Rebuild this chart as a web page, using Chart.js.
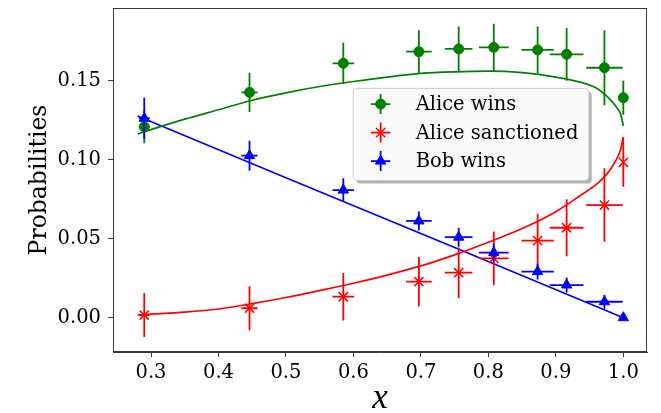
<!DOCTYPE html>
<html><head><meta charset="utf-8">
<script src="https://cdn.jsdelivr.net/npm/chart.js@4.4.1/dist/chart.umd.min.js"></script>
<style>html,body{margin:0;padding:0;background:#fff}</style>
</head><body>
<canvas id="c" width="661" height="413" style="display:block;width:661px;height:413px"></canvas>
<script>
// ---- data ----
const xData = [0.290, 0.446, 0.585, 0.697, 0.756, 0.808, 0.873, 0.916, 0.972, 1.000];
const xErr  = [0.008, 0.012, 0.016, 0.019, 0.0205, 0.022, 0.024, 0.025, 0.027, 0];

const aliceWins    = [0.121, 0.1428, 0.1612, 0.1686, 0.1703, 0.1713, 0.1697, 0.1669, 0.1584, 0.1394];
const aliceWinsErr = [0.0105, 0.0125, 0.013, 0.0135, 0.0142, 0.015, 0.0148, 0.0167, 0.0238, 0.0108];
const aliceSanc    = [0.0017, 0.006, 0.0133, 0.0228, 0.0285, 0.0376, 0.0488, 0.057, 0.0714, 0.0985];
const aliceSancErr = [0.014, 0.014, 0.015, 0.0157, 0.016, 0.017, 0.017, 0.018, 0.0233, 0.0155];
const bobWins      = [0.1264, 0.1027, 0.0809, 0.0613, 0.051, 0.0412, 0.0292, 0.0207, 0.0101, 0.0];
const bobWinsErr   = [0.013, 0.0095, 0.0074, 0.006, 0.006, 0.0056, 0.005, 0.0048, 0.0045, 0];

const fitX        = [0.28, 0.30, 0.35, 0.40, 0.45, 0.50, 0.55, 0.60, 0.65, 0.70, 0.75, 0.80, 0.85, 0.90, 0.94, 0.96, 0.97, 0.98, 0.99, 0.996, 1.0];
const fitAlice    = [0.1164, 0.1192, 0.1258, 0.1318, 0.1378, 0.1425, 0.1465, 0.1497, 0.1525, 0.1548, 0.1558, 0.1562, 0.1553, 0.1525, 0.1488, 0.1455, 0.1425, 0.1385, 0.1333, 0.1290, 0.1215];
const fitSanc     = [0.0017, 0.0022, 0.0035, 0.0055, 0.0089, 0.0128, 0.0172, 0.0218, 0.0270, 0.0328, 0.0398, 0.0478, 0.0565, 0.0672, 0.0785, 0.0845, 0.0885, 0.0935, 0.1005, 0.1065, 0.1145];
const bobFitX     = [0.28, 0.50, 0.75, 1.0];
const bobFit      = [0.1278, 0.0887, 0.0445, 0.0];

const xTicks = [0.3, 0.4, 0.5, 0.6, 0.7, 0.8, 0.9, 1.0];
const xTickLabels = ['0.3', '0.4', '0.5', '0.6', '0.7', '0.8', '0.9', '1.0'];
const yTicks = [0.00, 0.05, 0.10, 0.15];
const yTickLabels = ['0.00', '0.05', '0.10', '0.15'];

const seriesNames = ['Alice wins', 'Alice sanctioned', 'Bob wins'];
const xTitle = 'x';
const yTitle = 'Probabilities';

// ---- styling ----
const GREEN = '#008000', RED = '#ff0000', BLUE = '#0000ff';
const SERIF = "DejaVu Serif, serif";
const AXIS = '#3a3a3a';

const pts = (xs, ys) => xs.map((x, i) => ({ x: x, y: ys[i] }));

const errorBars = {
  id: 'errorBars',
  beforeDatasetDraw(chart, args) {
    const ds = chart.data.datasets[args.index];
    if (!ds.errY) return;
    const xs = chart.scales.x, ys = chart.scales.y, ctx = chart.ctx;
    ctx.save();
    ctx.strokeStyle = ds.borderColor;
    ctx.lineWidth = 1.8;
    ds.data.forEach((p, i) => {
      const px = xs.getPixelForValue(p.x), py = ys.getPixelForValue(p.y);
      const ey = ds.errY[i], ex = ds.errX[i];
      ctx.beginPath();
      if (ey > 0) {
        ctx.moveTo(px, ys.getPixelForValue(p.y - ey));
        ctx.lineTo(px, ys.getPixelForValue(p.y + ey));
      }
      if (ex > 0) {
        ctx.moveTo(xs.getPixelForValue(p.x - ex), py);
        ctx.lineTo(xs.getPixelForValue(p.x + ex), py);
      }
      ctx.stroke();
    });
    ctx.restore();
  }
};

const frame = {
  id: 'frame',
  afterDatasetsDraw(chart) {
    const a = chart.chartArea, ctx = chart.ctx;
    ctx.save();
    ctx.strokeStyle = AXIS;
    ctx.lineWidth = 1;
    ctx.strokeRect(Math.round(a.left) + 0.5, Math.round(a.top) + 0.5, Math.round(a.right - a.left) - 1, Math.round(a.bottom - a.top) - 1);
    ctx.restore();
  }
};

const legendBox = {
  id: 'legendBox',
  afterDraw(chart) {
    const a = chart.chartArea, ctx = chart.ctx;
    const W = a.right - a.left, H = a.bottom - a.top;
    const bx = a.left + W * 0.4497, by = a.top + H * 0.2337;
    const bw = W * 0.4412, bh = H * 0.2674;
    function rr(x, y, w, h, r) {
      ctx.beginPath();
      ctx.moveTo(x + r, y);
      ctx.lineTo(x + w - r, y); ctx.quadraticCurveTo(x + w, y, x + w, y + r);
      ctx.lineTo(x + w, y + h - r); ctx.quadraticCurveTo(x + w, y + h, x + w - r, y + h);
      ctx.lineTo(x + r, y + h); ctx.quadraticCurveTo(x, y + h, x, y + h - r);
      ctx.lineTo(x, y + r); ctx.quadraticCurveTo(x, y, x + r, y);
      ctx.closePath();
    }
    ctx.save();
    rr(bx + 3, by + 3, bw, bh, 4);
    ctx.fillStyle = 'rgba(0,0,0,0.3)';
    ctx.fill();
    rr(bx, by, bw, bh, 4);
    ctx.fillStyle = 'rgba(255,255,255,0.92)';
    ctx.fill();
    ctx.strokeStyle = '#cccccc';
    ctx.lineWidth = 1;
    ctx.stroke();
    const ds = chart.data.datasets.filter(d => d.errY);
    const mx = bx + 27.5, tx = bx + 62.5;
    ds.forEach((d, i) => {
      const my = by + 15.7 + i * 28.5;
      ctx.strokeStyle = d.borderColor;
      ctx.lineWidth = 1.8;
      ctx.beginPath();
      ctx.moveTo(mx - 9.7, my); ctx.lineTo(mx + 9.7, my);
      ctx.moveTo(mx, my - 10); ctx.lineTo(mx, my + 10);
      ctx.stroke();
      ctx.fillStyle = d.backgroundColor;
      ctx.strokeStyle = d.borderColor;
      ctx.lineWidth = d.pointBorderWidth;
      Chart.helpers.drawPoint(ctx, { pointStyle: d.pointStyle, radius: d.pointRadius, rotation: 0, borderWidth: d.pointBorderWidth }, mx, my);
      ctx.fillStyle = '#000';
      ctx.font = "19.5px " + SERIF;
      ctx.textAlign = 'left';
      ctx.textBaseline = 'middle';
      ctx.fillText(d.label, tx, my + 1);
    });
    ctx.restore();
  }
};

const fitStyle = { showLine: true, pointRadius: 0, borderWidth: 1.7, fill: false, order: 10 };

new Chart(document.getElementById('c'), {
  type: 'scatter',
  data: {
    datasets: [
      Object.assign({ label: 'fitA', data: pts(fitX, fitAlice), borderColor: GREEN, cubicInterpolationMode: 'monotone' }, fitStyle),
      Object.assign({ label: 'fitS', data: pts(fitX, fitSanc), borderColor: RED, cubicInterpolationMode: 'monotone' }, fitStyle),
      Object.assign({ label: 'fitB', data: pts(bobFitX, bobFit), borderColor: BLUE }, fitStyle),
      { label: seriesNames[0], data: pts(xData, aliceWins), errX: xErr, errY: aliceWinsErr,
        pointStyle: 'circle', pointRadius: 5, pointBorderWidth: 1, backgroundColor: GREEN, borderColor: GREEN, order: 3 },
      { label: seriesNames[1], data: pts(xData, aliceSanc), errX: xErr, errY: aliceSancErr,
        pointStyle: 'crossRot', pointRadius: 6.5, pointBorderWidth: 1.5, backgroundColor: RED, borderColor: RED, order: 2 },
      { label: seriesNames[2], data: pts(xData, bobWins), errX: xErr, errY: bobWinsErr,
        pointStyle: 'triangle', pointRadius: 6, pointBorderWidth: 1, backgroundColor: BLUE, borderColor: BLUE, order: 1 }
    ]
  },
  options: {
    responsive: false,
    animation: false,
    devicePixelRatio: 1,
    layout: { padding: { left: 0, top: 8, right: 14, bottom: 0 } },
    plugins: { legend: { display: false }, tooltip: { enabled: false } },
    scales: {
      x: {
        type: 'linear', min: 0.24368, max: 1.0351,
        afterBuildTicks: s => { s.ticks = xTicks.map(v => ({ value: v })); },
        afterFit: s => { s.height = 61; s.paddingLeft = 0; s.paddingRight = 0; },
        ticks: { callback: (v, i) => xTickLabels[i], color: '#000', padding: 4, maxRotation: 0, autoSkip: false,
                 font: { family: SERIF, size: 19.5 } },
        grid: { display: true, drawOnChartArea: false, drawTicks: true, tickLength: 5, tickColor: AXIS, tickWidth: 1 },
        border: { display: true, color: AXIS, width: 1 },
        title: { display: true, text: xTitle, color: '#000', padding: 0,
                 font: { family: "Liberation Serif, serif", style: 'italic', size: 35, lineHeight: 0.79 } }
      },
      y: {
        type: 'linear', min: -0.02174, max: 0.19626,
        afterBuildTicks: s => { s.ticks = yTicks.map(v => ({ value: v })); },
        afterFit: s => { s.width = 113; s.paddingTop = 0; s.paddingBottom = 0; },
        ticks: { callback: (v, i) => yTickLabels[i], color: '#000', padding: 7, autoSkip: false,
                 font: { family: SERIF, size: 19.5 } },
        grid: { display: true, drawOnChartArea: false, drawTicks: true, tickLength: 5, tickColor: AXIS, tickWidth: 1 },
        border: { display: true, color: AXIS, width: 1 },
        title: { display: true, text: yTitle, color: '#000', padding: { top: 25.8, bottom: 0 },
                 font: { family: SERIF, size: 23.5, lineHeight: 1.2 } }
      }
    }
  },
  plugins: [errorBars, frame, legendBox]
});
</script>
</body></html>
